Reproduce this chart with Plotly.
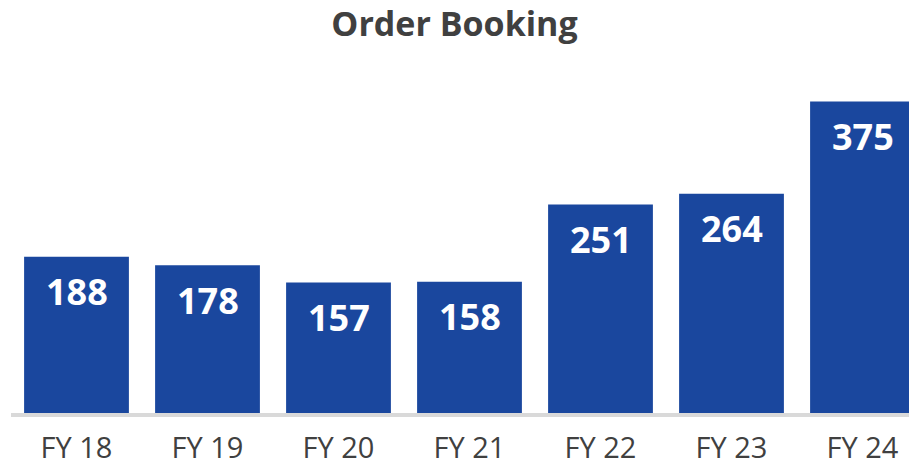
import plotly.graph_objects as go

years = ["FY 18", "FY 19", "FY 20", "FY 21", "FY 22", "FY 23", "FY 24"]
bookings = [188, 178, 157, 158, 251, 264, 375]

BAR_COLOR = "#1A479E"
TEXT_GREY = "#404040"
FONT = "Open Sans"

fig = go.Figure(
    go.Bar(
        x=list(range(len(years))),
        y=bookings,
        width=0.8,
        marker=dict(color=BAR_COLOR, line=dict(width=0)),
        hoverinfo="skip",
    )
)

# value labels inside the top of each bar
for i, v in enumerate(bookings):
    fig.add_annotation(
        x=i, y=v, text=f"<b>{v}</b>", showarrow=False,
        yanchor="middle", yshift=-35,
        font=dict(family=FONT, size=36, color="white"),
    )

# light grey baseline
fig.add_shape(
    type="line", xref="x", yref="y",
    x0=-0.5, x1=7.5, y0=-2.5, y1=-2.5,
    line=dict(color="#D9D9D9", width=4), layer="below",
)

fig.update_layout(
    width=909, height=468,
    margin=dict(l=0, r=0, t=70, b=50),
    paper_bgcolor="white", plot_bgcolor="white",
    showlegend=False,
    title=dict(
        text="<b>Order Booking</b>", x=0.5, xanchor="center",
        y=0.948, yanchor="middle",
        font=dict(family=FONT, size=34, color=TEXT_GREY),
    ),
    xaxis=dict(
        range=[-0.584, 6.355],
        tickmode="array", tickvals=list(range(len(years))), ticktext=years,
        showgrid=False, zeroline=False, showline=False, ticks="",
        tickfont=dict(family=FONT, size=29, color=TEXT_GREY),
        ticklabelstandoff=10,
        automargin=False,
        fixedrange=True,
    ),
    yaxis=dict(
        range=[-6, 413], visible=False, showgrid=False, zeroline=False,
        automargin=False,
        fixedrange=True,
    ),
)

fig.write_html("out.html", config={"displayModeBar": False})
